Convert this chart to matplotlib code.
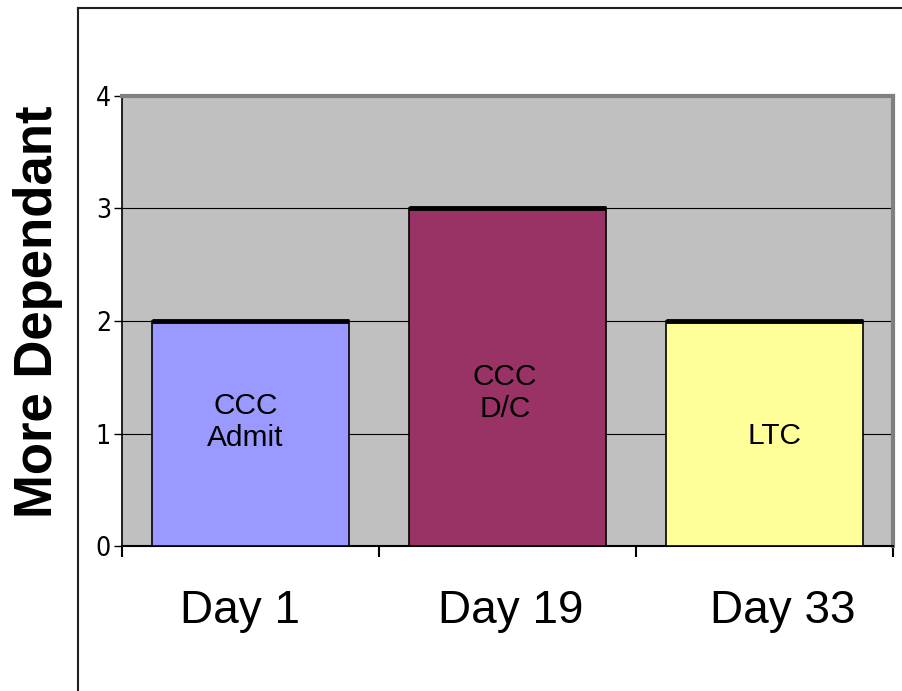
import matplotlib.pyplot as plt
from matplotlib.lines import Line2D
from matplotlib.transforms import ScaledTranslation

days = ["Day 1", "Day 19", "Day 33"]
levels = [2, 3, 2]
settings = ["CCC\nAdmit", "CCC\nD/C", "LTC"]
label_y = [1.10, 1.36, 0.98]
bar_colors = ["#9999FF", "#993366", "#FFFF99"]
y_ticks = [0, 1, 2, 3, 4]

fig = plt.figure(figsize=(9.03, 6.91), dpi=100)
ax = fig.add_axes([0.1351, 0.2098, 0.8538, 0.6513])
ax.set_facecolor("#C0C0C0")

x = list(range(len(days)))
width = 0.767
ax.bar(x, levels, width=width, color=bar_colors, edgecolor="black", linewidth=1.2, zorder=3)
for xi, lv in zip(x, levels):
    ax.plot([xi - width / 2, xi + width / 2], [lv, lv], color="black", lw=3.5,
            solid_capstyle="butt", zorder=4)

offsets = [-0.02, -0.01, 0.04]
for xi, txt, ly, dx in zip(x, settings, label_y, offsets):
    ax.text(xi + dx, ly, txt, ha="center", va="center", fontsize=21.5,
            family="Liberation Sans", zorder=5)

ax.set_xlim(-0.5, 2.5)
ax.set_ylim(0, 4)
ax.set_yticks(y_ticks)
ax.set_yticklabels([str(t) for t in y_ticks], family="DejaVu Sans", fontstretch="condensed",
                   fontsize=19)
ax.set_xticks(x)
ax.set_xticklabels(days, fontsize=33, family="Liberation Sans")
ax.tick_params(axis="x", length=0, pad=31)
ax.tick_params(axis="y", length=6, width=1, direction="out", pad=2)

# shift the day labels a little (in pixels), as in the original
for lbl, dx_px in zip(ax.get_xticklabels(), [-10, 3, 18]):
    lbl.set_transform(lbl.get_transform() + ScaledTranslation(dx_px / 100, 0, fig.dpi_scale_trans))

# category separator ticks on x axis
ax.set_xticks([-0.5, 0.5, 1.5, 2.5], minor=True)
ax.tick_params(axis="x", which="minor", length=8, width=1.5, direction="out")

ax.yaxis.grid(True, color="black", lw=0.8)
ax.set_axisbelow(True)

for side in ["top", "right"]:
    ax.spines[side].set_color("#808080")
    ax.spines[side].set_linewidth(3)
ax.spines["left"].set_color("black")
ax.spines["left"].set_linewidth(1.2)
ax.spines["bottom"].set_color("black")
ax.spines["bottom"].set_linewidth(1.5)

ax.set_ylabel("More Dependant", fontsize=38, fontweight="bold", family="Liberation Sans")
ax.yaxis.set_label_coords(-0.076, 0.52)

# outer frame
fig.add_artist(Line2D([78 / 903, 1.0], [1 - 8 / 691, 1 - 8 / 691], color="#202020", lw=1.5))
fig.add_artist(Line2D([78 / 903, 78 / 903], [0, 1 - 8 / 691], color="#202020", lw=1.5))

fig.savefig("out.png", dpi=100)
